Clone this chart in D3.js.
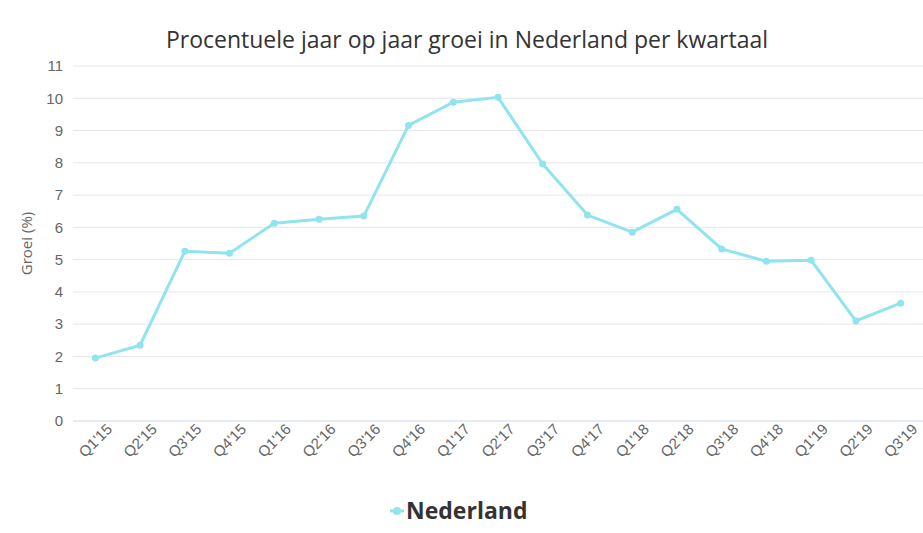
<!DOCTYPE html>
<html lang="en">
<head>
<meta charset="UTF-8">
<script src="https://d3js.org/d3.v7.min.js"></script>
<style>
  body { margin: 0; background: #fff; font-family: "Open Sans", sans-serif; }
  .tick text { fill: #666; font-size: 15px; }
</style>
</head>
<body>
<svg width="923" height="533"></svg>
<script>
const quarters = ["Q1'15","Q2'15","Q3'15","Q4'15","Q1'16","Q2'16","Q3'16","Q4'16","Q1'17","Q2'17",
                  "Q3'17","Q4'17","Q1'18","Q2'18","Q3'18","Q4'18","Q1'19","Q2'19","Q3'19"];
const growth = [1.95, 2.35, 5.26, 5.2, 6.13, 6.25, 6.35, 9.16, 9.88, 10.03,
                7.96, 6.38, 5.85, 6.56, 5.33, 4.95, 4.98, 3.1, 3.65];
const yTicks = d3.range(0, 12);
const color = "#90e4ef";

const svg = d3.select("svg");
const plotL = 73, plotR = 923, plotT = 66, plotB = 421;

const x = d3.scaleBand().domain(quarters).range([plotL, plotR]);
const y = d3.scaleLinear().domain([0, 11]).range([plotB, plotT]);

svg.append("text")
  .attr("x", 467).attr("y", 48).attr("text-anchor", "middle")
  .attr("font-size", 23).attr("fill", "#333")
  .text("Procentuele jaar op jaar groei in Nederland per kwartaal");

// gridlines
svg.append("g").selectAll("line").data(yTicks).enter().append("line")
  .attr("x1", plotL).attr("x2", plotR)
  .attr("y1", d => y(d)).attr("y2", d => y(d))
  .attr("stroke", d => d === 0 ? "#ccd6eb" : "#e6e6e6");

const yAxis = svg.append("g")
  .attr("transform", `translate(${plotL},0)`)
  .call(d3.axisLeft(y).tickValues(yTicks).tickSize(0).tickPadding(10));
yAxis.select(".domain").remove();

svg.append("text")
  .attr("transform", `translate(32,${(plotT + plotB) / 2}) rotate(-90)`)
  .attr("text-anchor", "middle").attr("fill", "#666").attr("font-size", 15)
  .text("Groei (%)");

const xAxis = svg.append("g")
  .attr("transform", `translate(0,${plotB})`)
  .call(d3.axisBottom(x).tickSize(0).tickPadding(10));
xAxis.select(".domain").remove();
xAxis.selectAll("text")
  .attr("text-anchor", "end")
  .attr("dx", "0.4em").attr("dy", "0.6em")
  .attr("transform", "rotate(-45)");

const cx = d => x(d) + x.bandwidth() / 2;
const pts = quarters.map((q, i) => [cx(q), y(growth[i])]);

svg.append("path")
  .attr("d", d3.line()(pts))
  .attr("fill", "none").attr("stroke", color).attr("stroke-width", 3);

svg.append("g").selectAll("circle").data(pts).enter().append("circle")
  .attr("cx", d => d[0]).attr("cy", d => d[1]).attr("r", 3.5).attr("fill", color);

// legend
const lg = svg.append("g").attr("transform", "translate(397,511)");
lg.append("line").attr("x1", -7).attr("x2", 7).attr("stroke", color).attr("stroke-width", 3);
lg.append("circle").attr("r", 4).attr("fill", color);
lg.append("text").attr("x", 9).attr("y", 8)
  .attr("font-size", 23).attr("font-weight", "bold").attr("fill", "#333")
  .text("Nederland");
</script>
</body>
</html>
